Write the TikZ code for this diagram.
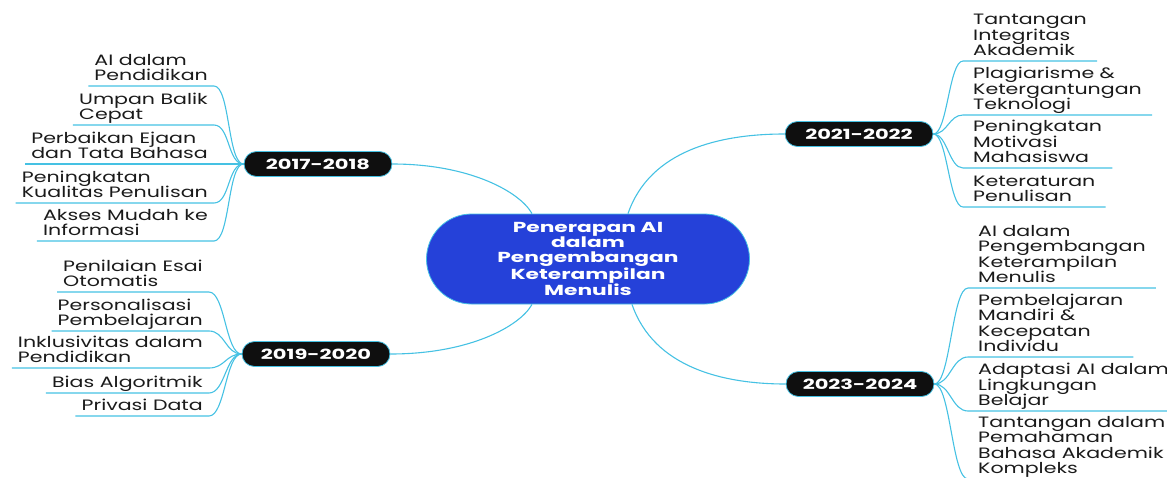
\documentclass[tikz,border=0pt]{standalone}
\usepackage{fontspec}
\setmainfont{Poppins}[FakeStretch=1.37]
\newfontfamily\headfont{Poppins}[FakeStretch=1.5]
\usetikzlibrary{calc}
\definecolor{con}{HTML}{45C1E3}
\definecolor{cblue}{HTML}{2541D9}
\definecolor{txt}{HTML}{1A1A1A}
\begin{document}
\begin{tikzpicture}[x=1pt,y=-1pt,
  conn/.style={draw=con, line width=1.1pt},
  leaf/.style={font=\fontsize{15}{15.5}\selectfont, text=txt, align=left,
    inner ysep=2pt, text depth=3pt},
  leafl/.style={leaf, anchor=south east, inner xsep=6pt},
  leafr/.style={leaf, anchor=south west, inner xsep=10pt},
  yearbox/.style={fill=black!94, draw=con, line width=0.8pt, rounded corners=12.5pt,
    minimum width=148pt, minimum height=25pt, text=white, inner sep=0pt,
    font=\headfont\bfseries\fontsize{14}{16}\selectfont},
  centerbox/.style={fill=cblue, draw=con, line width=0.8pt, rounded corners=45pt,
    minimum width=323pt, minimum height=90pt, text=white, align=center, inner sep=0pt,
    font=\headfont\bfseries\fontsize{14.5}{15.2}\selectfont}
]
\useasboundingbox (0,0) rectangle (1167,477);

\node[centerbox] (c) at (588,259) {Penerapan AI\\dalam\\Pengembangan\\Keterampilan\\Menulis};

\node[yearbox] (b1) at (318,164) {2017-2018};
\node[yearbox] (b2) at (316,354) {2019-2020};
\node[yearbox] (b3) at (859,134) {2021-2022};
\node[yearbox] (b4) at (860,384) {2023-2024};

\draw[conn] (b1.east) .. controls (470,164) and (520,192) .. ([xshift=-56pt]c.north);
\draw[conn] (b2.east) .. controls (470,354) and (520,326) .. ([xshift=-56pt]c.south);
\draw[conn] ([xshift=40pt]c.north) .. controls (650,150) and (720,134) .. (b3.west);
\draw[conn] ([xshift=44pt]c.south) .. controls (654,368) and (724,384) .. (b4.west);

% 2017-2018
\node[leafl] (l1) at (214,86) {AI dalam\\Pendidikan};
\node[leafl] (l2) at (214,125) {Umpan Balik\\Cepat};
\node[leafl] (l3) at (214,164) {Perbaikan Ejaan\\dan Tata Bahasa};
\node[leafl] (l4) at (214,203) {Peningkatan\\Kualitas Penulisan};
\node[leafl] (l5) at (214,241) {Akses Mudah ke\\Informasi};
\foreach \n in {l1,l2,l3,l4,l5}{
  \draw[conn] (\n.south west) -- (\n.south east) .. controls ($(\n.south east)+(16,0)$) and ($(b1.west)+(-16,0)$) .. (b1.west);
}

% 2019-2020
\node[leafl] (m1) at (209,292) {Penilaian Esai\\Otomatis};
\node[leafl] (m2) at (209,331) {Personalisasi\\Pembelajaran};
\node[leafl] (m3) at (209,368) {Inklusivitas dalam\\Pendidikan};
\node[leafl] (m4) at (209,393) {Bias Algoritmik};
\node[leafl] (m5) at (209,416) {Privasi Data};
\foreach \n in {m1,m2,m3,m4,m5}{
  \draw[conn] (\n.south west) -- (\n.south east) .. controls ($(\n.south east)+(16,0)$) and ($(b2.west)+(-16,0)$) .. (b2.west);
}

% 2021-2022
\node[leafr] (r1) at (963,61) {Tantangan\\Integritas\\Akademik};
\node[leafr] (r2) at (963,115) {Plagiarisme \&\\Ketergantungan\\Teknologi};
\node[leafr] (r3) at (963,168) {Peningkatan\\Motivasi\\Mahasiswa};
\node[leafr] (r4) at (963,207) {Keteraturan\\Penulisan};
\foreach \n in {r1,r2,r3,r4}{
  \draw[conn] (\n.south east) -- (\n.south west) .. controls ($(\n.south west)+(-14,0)$) and ($(b3.east)+(14,0)$) .. (b3.east);
}

% 2023-2024
\node[leafr] (s1) at (968,288) {AI dalam\\Pengembangan\\Keterampilan\\Menulis};
\node[leafr] (s2) at (968,357) {Pembelajaran\\Mandiri \&\\Kecepatan\\Individu};
\node[leafr] (s3) at (968,411) {Adaptasi AI dalam\\Lingkungan\\Belajar};
\node[leafr] (s4) at (968,479) {Tantangan dalam\\Pemahaman\\Bahasa Akademik\\Kompleks};
\foreach \n in {s1,s2,s3,s4}{
  \draw[conn] (\n.south east) -- (\n.south west) .. controls ($(\n.south west)+(-16,0)$) and ($(b4.east)+(16,0)$) .. (b4.east);
}
\end{tikzpicture}
\end{document}
